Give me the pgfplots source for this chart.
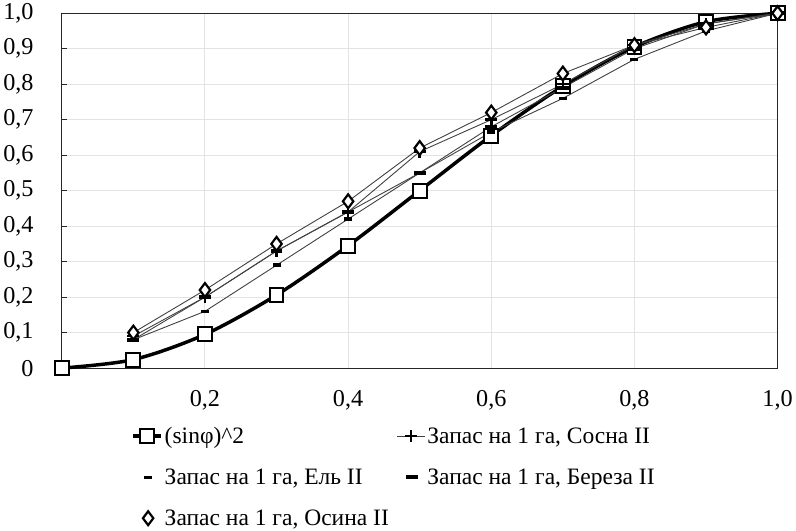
\documentclass[border=0pt]{standalone}
\usepackage{fontspec}
\setmainfont{Liberation Serif}
\usepackage{pgfplots}
\pgfplotsset{compat=1.18}
\newcommand{\chartfont}{\fontsize{24.5}{29}\selectfont}
\newcommand{\legfont}{\fontsize{23.8}{28}\selectfont}
\pgfplotsset{
    markonly legend/.style={
        legend image code/.code={\draw[##1, only marks] plot coordinates {(15bp,0bp)};}},
}

\begin{document}
\begin{tikzpicture}
\begin{axis}[
    width=722bp, height=358bp, scale only axis,
    xmin=0, xmax=1, ymin=0, ymax=1,
    xtick={0.2,0.4,0.6,0.8,1.0},
    xticklabels={{0,2},{0,4},{0,6},{0,8},{1,0}},
    ytick={0,0.1,0.2,0.3,0.4,0.5,0.6,0.7,0.8,0.9,1.0},
    yticklabels={0,{0,1},{0,2},{0,3},{0,4},{0,5},{0,6},{0,7},{0,8},{0,9},{1,0}},
    grid=major, grid style={gray!22, line width=1bp},
    axis line style={black!85, line width=1bp},
    tick label style={font=\chartfont},
    xtick style={draw=none},
    ytick pos=left, tick align=inside, major tick length=5bp,
    ytick style={black!85, line width=1bp},
    xticklabel style={yshift=-19bp},
    yticklabel style={xshift=-25bp},
    legend columns=2,
    legend cell align=left,
    legend style={draw=none, fill=none, font=\legfont,
        at={(0.093,-0.155)}, anchor=north west, row sep=20bp,
        /tikz/every even column/.append style={column sep=6bp}},
    legend image code/.code={\draw[mark repeat=2,mark phase=2,#1]
        plot coordinates {(0bp,0bp)(14bp,0bp)(28bp,0bp)};},
    clip=false,
]
% (sin phi)^2
\addplot[black, line width=3.5bp, smooth, mark=square*,
    mark options={fill=white, line width=2bp, mark size=7bp}] coordinates {
    (0,0)(0.1,0.024)(0.2,0.095)(0.3,0.206)(0.4,0.345)(0.5,0.5)
    (0.6,0.655)(0.7,0.794)(0.8,0.905)(0.9,0.976)(1.0,1.0)};
\addlegendentry{(sinφ)\textasciicircum 2}
% Sosna II
\addplot[black!75, line width=0.9bp, mark=+,
    mark options={black, line width=2.5bp, mark size=6bp}] coordinates {
    (0.1,0.09)(0.2,0.20)(0.3,0.33)(0.4,0.44)(0.5,0.61)
    (0.6,0.70)(0.7,0.80)(0.8,0.91)(0.9,0.97)(1.0,1.0)};
\addlegendentry{Запас на 1 га, Сосна II}
% El' II
\addplot[black!75, line width=0.9bp, mark=-, markonly legend,
    mark options={black, line width=3.5bp, mark size=4bp}] coordinates {
    (0.1,0.08)(0.2,0.16)(0.3,0.29)(0.4,0.42)(0.5,0.55)
    (0.6,0.665)(0.7,0.76)(0.8,0.87)(0.9,0.95)(1.0,1.0)};
\addlegendentry{Запас на 1 га, Ель II}
% Bereza II
\addplot[black!75, line width=0.9bp, mark=-, markonly legend,
    mark options={black, line width=4bp, mark size=6bp}] coordinates {
    (0.1,0.08)(0.2,0.20)(0.3,0.33)(0.4,0.44)(0.5,0.55)
    (0.6,0.68)(0.7,0.79)(0.8,0.90)(0.9,0.97)(1.0,1.0)};
\addlegendentry{Запас на 1 га, Береза II}
% Osina II
\addplot[black!75, line width=0.9bp, mark=diamond*, markonly legend,
    mark options={black, fill=white, line width=2.2bp, mark size=7bp}] coordinates {
    (0.1,0.10)(0.2,0.22)(0.3,0.35)(0.4,0.47)(0.5,0.62)
    (0.6,0.72)(0.7,0.83)(0.8,0.91)(0.9,0.96)(1.0,1.0)};
\addlegendentry{Запас на 1 га, Осина II}
\end{axis}
\end{tikzpicture}
\end{document}
